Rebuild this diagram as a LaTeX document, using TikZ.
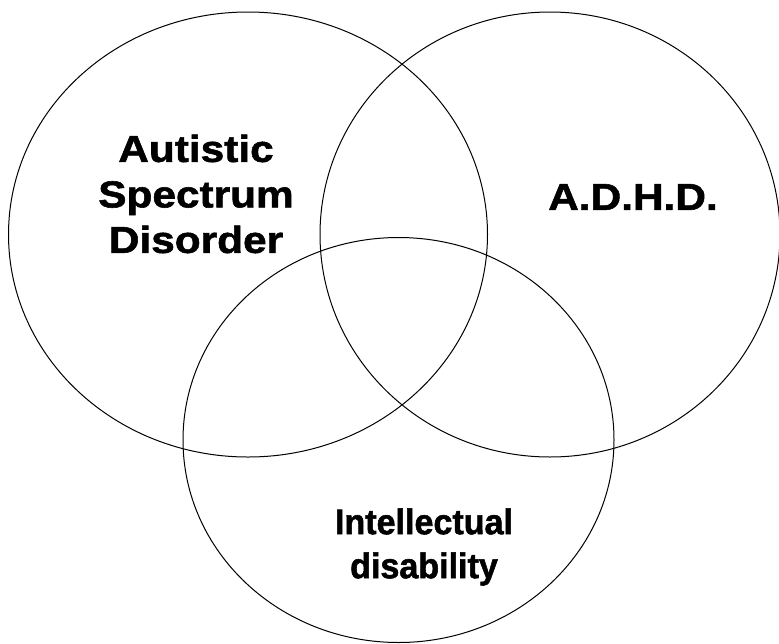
\documentclass[tikz,border=0pt]{standalone}
\usepackage{fontspec}
\newfontfamily\labelfont{Liberation Sans}[FakeStretch=1.13,BoldFeatures={FakeBold=1.5}]
\newfontfamily\narrowfont{Liberation Sans}[FakeStretch=0.96,BoldFeatures={FakeBold=1.5}]
\begin{document}
\begin{tikzpicture}[x=1pt,y=-1pt]

\tikzset{label/.style={font=\labelfont\bfseries\fontsize{37.5}{45.5}\selectfont,align=center},
  narrowlabel/.style={label,font=\narrowfont\bfseries\fontsize{35.5}{44}\selectfont}}

\useasboundingbox (0,0) rectangle (779,643);

\draw[line width=1pt] (248,234.5) ellipse [x radius=239.5, y radius=222.5];
\draw[line width=1pt] (550,234.5) ellipse [x radius=230, y radius=222.5];
\draw[line width=1pt] (398.5,440) ellipse [x radius=215.5, y radius=202.5];

\node[label] (asd) at (196,194) {Autistic\\Spectrum\\Disorder};
\node[label] (adhd) at (633,197) {A.D.H.D.};
\node[narrowlabel] (id) at (424,547) {Intellectual\\disability};

\end{tikzpicture}
\end{document}
